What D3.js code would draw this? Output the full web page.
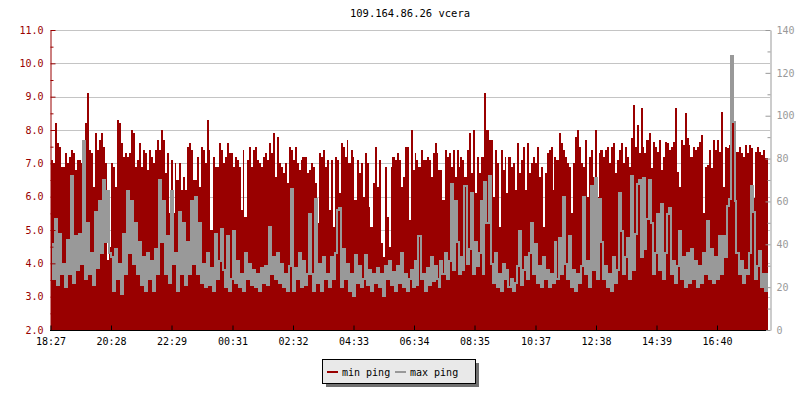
<!DOCTYPE html>
<html><head><meta charset="utf-8">
<script src="https://cdn.jsdelivr.net/npm/d3@7"></script>
<style>
body{margin:0;background:#fff;}
svg{display:block;}
text{font-family:"DejaVu Sans Mono",monospace;font-size:10px;}
</style>
</head><body>
<svg id="chart" width="800" height="400"></svg>
<script>
const title = "109.164.86.26 vcera";
const startLabel = "18:27";
const stepMinutes = 4;
const timeLabels = ["18:27","20:28","22:29","00:31","02:32","04:33","06:34","08:35","10:37","12:38","14:39","16:40"];
const leftTicks = [2,3,4,5,6,7,8,9,10,11];
const leftMinorTicks = [2.5,3.5,4.5,5.5,6.5,7.5,8.5,9.5,10.5];
const rightTicks = [0,20,40,60,80,100,120,140];
const rightMinorTicks = [10,30,50,70,90,110,130];
const seriesNames = ["min ping","max ping"];

const minPing = [
7.1,7.0,8.2,7.6,7.5,6.9,6.9,7.3,7.0,7.2,
7.4,7.3,6.8,7.1,7.1,7.0,6.9,8.2,9.1,7.4,
7.3,6.3,7.9,7.4,7.7,7.9,7.5,7.0,4.1,4.5,
7.0,6.9,6.3,8.3,8.2,7.6,7.2,7.3,7.2,7.3,
8.0,7.9,6.9,7.1,7.6,6.9,7.4,7.3,6.8,7.4,
7.2,7.0,7.4,7.7,7.4,8.0,7.7,6.7,7.3,5.5,
7.1,5.5,7.0,6.5,7.0,6.2,6.6,6.2,7.5,7.6,
7.4,6.5,
6.5,7.2,6.3,7.5,7.4,7.0,8.3,7.4,5.0,7.2,
6.9,6.9,7.6,7.4,7.0,7.2,7.6,7.3,7.3,6.9,
7.2,7.1,6.9,5.6,7.4,5.4,7.1,7.5,6.9,7.4,
7.5,7.1,7.0,6.9,7.2,7.3,7.1,7.6,7.3,7.9,
6.6,7.8,7.0,6.9,6.7,7.0,6.4,7.5,7.4,7.1,
7.5,7.0,6.8,7.1,7.2,7.2,6.7,6.8,7.0,6.9,
6.4,5.2,7.3,7.2,7.4,6.9,7.1,5.6,7.1,5.1,
7.2,7.1,
6.1,7.6,7.5,7.2,7.7,7.0,7.4,7.2,5.9,7.1,
6.7,7.0,6.0,7.3,7.0,5.7,5.1,6.4,7.5,6.3,
7.1,4.6,4.2,6.9,5.4,4.5,6.9,7.2,7.1,7.3,
7.1,6.3,6.6,7.5,7.5,5.3,8.0,6.8,7.3,7.1,
6.9,7.4,7.1,7.1,7.2,7.1,6.6,7.3,7.6,7.3,
6.8,6.8,5.9,7.4,7.2,7.3,6.9,7.4,6.6,7.4,
6.9,7.2,7.1,6.6,7.4,7.9,6.7,8.0,6.1,7.2,
6.7,7.2,
7.2,9.1,8.0,7.7,7.7,6.0,7.4,7.0,5.1,7.4,
6.8,7.2,6.1,7.2,6.9,7.0,6.2,7.6,6.7,7.1,
7.5,6.2,7.6,6.7,7.0,7.2,7.0,7.5,6.6,6.9,
5.1,6.7,7.3,7.4,7.5,6.2,7.2,7.1,7.9,7.6,
7.4,7.2,7.0,6.9,5.5,7.0,7.8,8.0,7.5,7.0,
6.9,7.7,6.0,7.2,7.4,6.6,8.0,6.0,7.3,7.4,
7.2,7.4,7.5,7.0,7.5,7.6,6.7,7.1,7.4,7.6,
7.0,7.5,
7.2,6.9,7.75,8.75,7.5,8.15,7.3,8.65,7.5,7.3,
7.7,7.9,6.85,7.65,7.5,7.35,7.7,6.8,7.2,7.65,
7.6,7.4,7.5,7.65,8.65,6.75,6.3,7.7,7.55,8.5,
7.75,7.55,7.2,7.5,7.4,7.5,7.65,7.85,5.5,6.9,
6.95,7.4,6.85,7.7,7.4,7.7,7.35,8.55,6.3,7.5,
7.45,7.55,10.2,8.6,7.45,7.35,7.5,7.3,7.2,7.55,
7.3,7.55,7.45,5.95,7.35,7.5,7.35,7.25,7.4,7.15,
7.15,6.0
];

const maxPing = [
40,24,52,21,45,26, 31,20,42,26,72,22, 44,28,45,31,88,24, 50,26,36,21,55,29,
60,36,70,41,65,36, 34,18,38,24,31,17, 45,26,65,36,60,31, 50,26,41,21,34,18,
36,24,32,18,38,26, 70,41,60,26,44,22, 65,31,36,18,55,26, 50,21,41,26,60,31,
62,26,50,22,31,20, 36,21,29,18,45,24, 32,47,28,20,44,18, 24,46,22,32,20,26,
18,36,24,31,21,28, 20,26,18,29,22,30, 21,48,26,34,24,36, 22,31,20,26,18,30,
66,18,29,24,36,20, 32,21,26,54,26,18, 61,22,31,18,34,24, 26,20,34,24,36,56,
57,20,38,24,31,18, 26,16,35,22,30,20, 24,35,21,28,18,26, 22,29,20,26,16,30,
24,32,21,27,18,30, 22,36,20,26,18,24, 28,20,32,21,44,24, 26,18,29,21,34,23,
30,24,20,32,26,36, 24,32,68,28,60,41, 26,34,28,67,31,38, 64,26,41,30,36,60,
26,69,50,72,31,22, 36,20,26,18,31,24, 28,20,24,18,22,30, 46,21,28,34,24,36,
50,26,40,22,30,20, 34,24,28,20,26,22, 41,24,43,26,62,31, 24,44,20,28,18,26,
22,30,62,26,32,20, 67,28,71,24,61,41, 24,30,20,26,18,34, 22,28,64,46,26,34,
43,24,72,28,45,68, 70,34,71,38,52,70, 50,26,36,54,28,59, 24,36,54,57,26,32,
22,30,46,24,34,20, 36,22,38,24,32,20, 30,22,36,26,51,24, 38,22,34,24,44,26,
44,34,58,61,128,97, 60,36,26,32,22,28, 26,36,67,55,24,30, 37,20,26,18,26,30
];

const RED = "#990000", GRAY = "#999999";
const svg = d3.select("#chart");

const parseHM = d3.timeParse("%Y-%m-%d %H:%M");
const t0 = parseHM("2020-01-01 " + startLabel);
function labelDate(s) {
  let d = parseHM("2020-01-01 " + s);
  if (d < t0) d = d3.timeDay.offset(d, 1);
  return d;
}
const tEnd = d3.timeMinute.offset(t0, 24 * 60);
const x = d3.scaleTime().domain([t0, tEnd]).range([50.5, 770.5]);
const yL = d3.scaleLinear().domain([2, 11]).range([330, 30]);
const yR = d3.scaleLinear().domain([0, 140]).range([330, 30]);

const times = minPing.map((_, i) => d3.timeMinute.offset(t0, i * stepMinutes));

// grid
svg.append("g").selectAll("line").data(leftTicks.filter(v => v > 2)).join("line")
  .attr("x1", 51).attr("x2", 770)
  .attr("y1", d => Math.round(yL(d)) + 0.5).attr("y2", d => Math.round(yL(d)) + 0.5)
  .attr("stroke", "#c4c4c4").attr("stroke-width", 1);

svg.append("defs").append("clipPath").attr("id", "clip")
  .append("rect").attr("x", 51).attr("y", 20).attr("width", 717).attr("height", 310);

// min ping bars
svg.append("g").attr("clip-path", "url(#clip)").attr("shape-rendering", "crispEdges")
  .selectAll("rect").data(minPing).join("rect")
  .attr("x", (d, i) => Math.round(x(times[i])))
  .attr("width", (d, i) => Math.round(x(d3.timeMinute.offset(times[i], stepMinutes))) - Math.round(x(times[i])))
  .attr("y", d => yL(d))
  .attr("height", d => yL(2) - yL(d))
  .attr("fill", RED);

// max ping line
const line = d3.line()
  .x((d, i) => Math.round(x(times[i])) + 1)
  .y(d => Math.round(yR(d)))
  .curve(d3.curveStep);
svg.append("path").datum(maxPing)
  .attr("clip-path", "url(#clip)")
  .attr("shape-rendering", "crispEdges")
  .attr("d", line).attr("fill", "none").attr("stroke", GRAY).attr("stroke-width", 2);

// left axis
const gL = svg.append("g").attr("transform", "translate(50.5,0)");
gL.call(d3.axisLeft(yL).tickValues(leftTicks).tickSize(-5).tickSizeOuter(0).tickPadding(7).tickFormat(d3.format(".1f")));
gL.append("g").call(d3.axisLeft(yL).tickValues(leftMinorTicks).tickSize(-3).tickSizeOuter(0).tickFormat(""))
  .select(".domain").remove();
gL.selectAll("path,line").attr("stroke", RED);
gL.selectAll("text").attr("fill", RED).style("font-size", "10px").style("font-family", "DejaVu Sans Mono, monospace");

// right axis
const gR = svg.append("g").attr("transform", "translate(770.5,0)");
gR.call(d3.axisRight(yR).tickValues(rightTicks).tickSize(-5).tickSizeOuter(0).tickPadding(6).tickFormat(d3.format("d")));
gR.append("g").call(d3.axisRight(yR).tickValues(rightMinorTicks).tickSize(-3).tickSizeOuter(0).tickFormat(""))
  .select(".domain").remove();
gR.selectAll("path,line").attr("stroke", GRAY);
gR.selectAll("text").attr("fill", GRAY).style("font-size", "10px").style("font-family", "DejaVu Sans Mono, monospace");

// x axis
const gX = svg.append("g").attr("transform", "translate(0,330.5)");
gX.call(d3.axisBottom(x).tickValues(timeLabels.map(labelDate)).tickSize(-5).tickSizeOuter(0).tickPadding(7)
  .tickFormat(d3.timeFormat("%H:%M")));
gX.select(".domain").remove();
gX.append("line").attr("x1", 50).attr("x2", 766).attr("stroke", "#000");
gX.selectAll("line").attr("stroke", "#000");
gX.selectAll("text").attr("fill", "#000").style("font-size", "10px").style("font-family", "DejaVu Sans Mono, monospace");

// title
svg.append("text").attr("x", 410).attr("y", 17).attr("text-anchor", "middle")
  .attr("fill", "#000").style("font-size", "10.5px").text(title);

// legend
const lg = svg.append("g").attr("transform", "translate(322,359)");
lg.append("rect").attr("x", 4).attr("y", 4).attr("width", 153).attr("height", 24).attr("fill", "#707070");
lg.append("rect").attr("x", 0.5).attr("y", 0.5).attr("width", 153).attr("height", 24).attr("fill", "#e9e9e9").attr("stroke", "#000");
const legendItems = [
  {name: seriesNames[0], color: RED, x: 5},
  {name: seriesNames[1], color: GRAY, x: 73}
];
legendItems.forEach(it => {
  lg.append("line").attr("x1", it.x).attr("x2", it.x + 11).attr("y1", 13).attr("y2", 13)
    .attr("stroke", it.color).attr("stroke-width", 2);
  lg.append("text").attr("x", it.x + 15).attr("y", 16.5).attr("fill", "#000").text(it.name);
});
</script>
</body></html>
